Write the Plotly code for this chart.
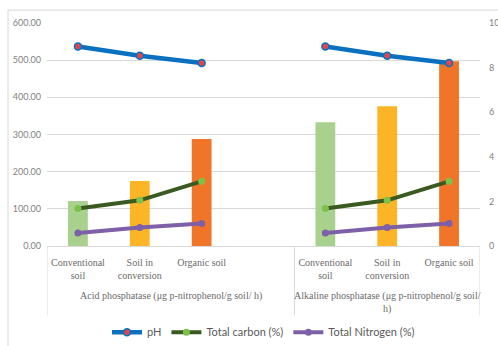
import plotly.graph_objects as go

# Category slots: three soils per enzyme group, with an empty slot between groups
soils = ["Conventional<br>soil", "Soil in<br>conversion", "Organic soil"]
groups = ["Acid phosphatase (μg p-nitrophenol/g soil/ h)",
          "Alkaline phosphatase (μg p-nitrophenol/g soil/<br>h)"]
slot_x = [0, 1, 2, 4, 5, 6]

# Enzyme activity (left axis)
acid_activity = [121, 175, 288]
alkaline_activity = [333, 376, 497]

# Soil properties (right axis), same values for both groups
ph = [8.95, 8.53, 8.21]
total_carbon = [1.68, 2.05, 2.90]
total_nitrogen = [0.58, 0.83, 1.01]

bar_colors = ["#A9D18E", "#FBB526", "#F07528"]

line_x = [0, 1, 2, None, 4, 5, 6]


def repeated(vals):
    return vals + [None] + vals


fig = go.Figure()

fig.add_trace(go.Bar(
    x=slot_x,
    y=acid_activity + alkaline_activity,
    marker=dict(color=bar_colors * 2, line=dict(width=0)),
    width=0.32,
    showlegend=False,
    hoverinfo="skip",
))

fig.add_trace(go.Scatter(
    x=line_x, y=repeated(ph), yaxis="y2", name="pH",
    mode="lines+markers",
    line=dict(color="#0A70C0", width=4.5),
    marker=dict(color="#E0474C", size=7, line=dict(color="#0A70C0", width=1.5)),
))
fig.add_trace(go.Scatter(
    x=line_x, y=repeated(total_carbon), yaxis="y2", name="Total carbon (%)",
    mode="lines+markers",
    line=dict(color="#3A5A22", width=4),
    marker=dict(color="#7DC14B", size=7),
))
fig.add_trace(go.Scatter(
    x=line_x, y=repeated(total_nitrogen), yaxis="y2", name="Total Nitrogen (%)",
    mode="lines+markers",
    line=dict(color="#7E60A8", width=4),
    marker=dict(color="#7E60A8", size=7),
))

gray = "#D9D9D9"
tick_font = dict(family="Lato, Liberation Sans, sans-serif", size=9, color="#7F7F7F")
serif = dict(family="Liberation Serif, Times New Roman, serif", size=10, color="#6A6A6A")

# Group separators below the category axis
shapes = []
for xv in [-0.5, 3.5, 6.5]:
    shapes.append(dict(type="line", xref="x", yref="paper", x0=xv, x1=xv,
                       y0=0, y1=-0.31, line=dict(color=gray, width=1)))
# Chart area border (top and left edges)
shapes.append(dict(type="line", xref="paper", yref="paper", x0=-0.09, x1=1.1,
                   y0=1.058, y1=1.058, line=dict(color=gray, width=1)))
shapes.append(dict(type="line", xref="paper", yref="paper", x0=-0.09, x1=-0.09,
                   y0=1.058, y1=-0.6, line=dict(color=gray, width=1)))

annotations = [
    dict(x=1.5, y=-0.222, xref="x", yref="paper", text=groups[0], showarrow=False,
         font=serif, yanchor="middle"),
    dict(x=5.0, y=-0.255, xref="x", yref="paper", text=groups[1], showarrow=False,
         font=serif, yanchor="middle"),
]

fig.update_layout(
    width=498, height=346,
    margin=dict(l=47, r=18, t=23, b=100, autoexpand=False),
    paper_bgcolor="white", plot_bgcolor="white",
    xaxis=dict(range=[-0.5, 6.5], tickvals=[0, 1, 2, 4, 5, 6], ticktext=soils * 2,
               tickfont=serif, showgrid=False, zeroline=False, showline=True,
               linecolor=gray, linewidth=1, ticks="", fixedrange=True,
               ticklabelstandoff=7, automargin=False),
    yaxis=dict(range=[0, 600], dtick=100, tickformat=".2f", tickfont=tick_font,
               showgrid=True, gridcolor=gray, gridwidth=1, zeroline=False,
               showline=False, ticks="", ticklabelstandoff=5, automargin=False),
    yaxis2=dict(range=[0, 10], dtick=2, overlaying="y", side="right",
                tickfont=tick_font, showgrid=False, zeroline=False,
                showline=False, ticks="", ticklabelstandoff=8, automargin=False),
    legend=dict(orientation="h", x=0.50, xanchor="center",
                yref="container", y=0.04, yanchor="middle",
                font=dict(family="Lato, Liberation Sans, sans-serif", size=11,
                          color="#595959"),
                itemwidth=30, tracegroupgap=0),
    bargap=0.68,
    shapes=shapes,
    annotations=annotations,
)

fig.write_html("out.html")
